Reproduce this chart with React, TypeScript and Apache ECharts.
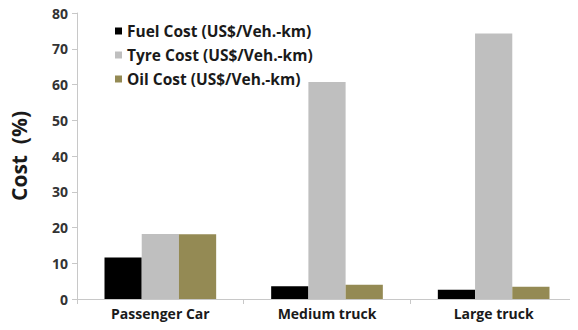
import React, { useEffect, useRef } from "react";
import * as echarts from "echarts";

const categories = ["Passenger Car", "Medium truck", "Large truck"];
const seriesNames = [
  "Fuel Cost (US$/Veh.-km)",
  "Tyre Cost (US$/Veh.-km)",
  "Oil Cost (US$/Veh.-km)",
];
const fuelCost = [11.6, 3.6, 2.6];
const tyreCost = [18.2, 60.7, 74.3];
const oilCost = [18.1, 4.0, 3.4];
const seriesColors = ["#000000", "#bfbfbf", "#948a54"];

const FONT = "'Open Sans', 'Noto Sans', sans-serif";

export default function App() {
  const ref = useRef<HTMLDivElement>(null);

  useEffect(() => {
    if (!ref.current) return;
    const chart = echarts.init(ref.current, undefined, { renderer: "svg" });
    const values = [fuelCost, tyreCost, oilCost];
    chart.setOption({
      animation: false,
      backgroundColor: "#ffffff",
      grid: { left: 76, right: 1, top: 13, bottom: 31 },
      legend: {
        orient: "vertical",
        left: 110,
        top: 18,
        itemWidth: 7,
        itemHeight: 7,
        itemGap: 8,
        icon: "rect",
        textStyle: {
          fontFamily: FONT,
          fontWeight: "bold",
          fontSize: 15.5,
          color: "#1a1a1a",
        },
        data: seriesNames,
      },
      xAxis: {
        type: "category",
        data: categories,
        axisLine: { lineStyle: { color: "#c8c8c8", width: 1 } },
        axisTick: { show: true, length: 5, lineStyle: { color: "#c8c8c8" } },
        axisLabel: {
          fontFamily: FONT,
          fontWeight: "bold",
          fontSize: 14,
          color: "#1a1a1a",
          margin: 7,
        },
      },
      yAxis: {
        type: "value",
        min: 0,
        max: 80,
        interval: 10,
        name: "Cost  (%)",
        nameLocation: "middle",
        nameGap: 48,
        nameTextStyle: {
          fontFamily: FONT,
          fontWeight: "bold",
          fontSize: 21,
          color: "#1a1a1a",
        },
        axisLine: { show: true, lineStyle: { color: "#c8c8c8", width: 1 } },
        axisTick: { show: true, length: 5, lineStyle: { color: "#c8c8c8" } },
        splitLine: { show: false },
        axisLabel: {
          fontFamily: FONT,
          fontWeight: "bold",
          fontSize: 14,
          color: "#333333",
          margin: 9,
        },
      },
      series: seriesNames.map((name, i) => ({
        name,
        type: "bar",
        data: values[i],
        barGap: "0%",
        barCategoryGap: "33%",
        itemStyle: { color: seriesColors[i] },
      })),
    });
    return () => chart.dispose();
  }, []);

  return <div ref={ref} style={{ width: 578, height: 330, margin: -8 }} />;
}
